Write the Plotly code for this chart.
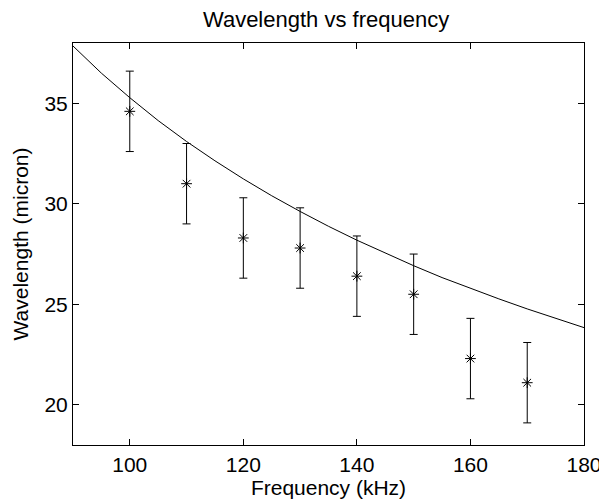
import plotly.graph_objects as go

# Measured data (frequency in kHz, wavelength in micron)
freq = [100, 110, 120, 130, 140, 150, 160, 170]
wavelength = [34.6, 31.0, 28.3, 27.8, 26.4, 25.5, 22.3, 21.1]
err = [2.0, 2.0, 2.0, 2.0, 2.0, 2.0, 2.0, 2.0]

# Theory curve
curve_f = [90, 95, 100, 105, 110, 115, 120, 125, 130, 135, 140, 145, 150, 155, 160, 165, 170, 175, 180]
curve_w = [37.85, 36.50, 35.28, 34.14, 33.10, 32.14, 31.24, 30.40, 29.62, 28.88, 28.19,
           27.54, 26.92, 26.33, 25.79, 25.27, 24.77, 24.29, 23.84]

x_ticks = [100, 120, 140, 160, 180]
y_ticks = [20, 25, 30, 35]

FONT = "Liberation Sans, Arial, sans-serif"

fig = go.Figure()
fig.add_trace(go.Scatter(
    x=curve_f, y=curve_w, mode="lines",
    line=dict(color="black", width=1), showlegend=False, hoverinfo="skip"))
fig.add_trace(go.Scatter(
    x=freq, y=wavelength, mode="markers",
    marker=dict(symbol="asterisk-open", size=9, color="black",
                line=dict(color="black", width=1)),
    error_y=dict(type="data", array=err, visible=True, color="black",
                 thickness=1, width=4),
    showlegend=False))

# The page body has an 8px margin, so the figure is 8px smaller than the window
fig.update_layout(
    width=599, height=495,
    margin=dict(l=65, r=23, t=35, b=58),
    paper_bgcolor="white", plot_bgcolor="white",
    font=dict(family=FONT, size=21, color="black"),
    title=dict(text="Wavelength vs frequency", x=0.531, xanchor="center",
               y=0.977, yanchor="middle", font=dict(size=22, family=FONT)),
    xaxis=dict(range=[90, 180], tickvals=x_ticks, ticks="inside", ticklen=6,
               tickcolor="black", showline=True, linecolor="black", linewidth=1,
               mirror="ticks", showgrid=False, zeroline=False, automargin=False,
               ticklabelstandoff=1,
               title=dict(text="Frequency (kHz)", standoff=1,
                          font=dict(size=21, family=FONT))),
    yaxis=dict(range=[18, 38], tickvals=y_ticks, ticks="inside", ticklen=6,
               tickcolor="black", showline=True, linecolor="black", linewidth=1,
               mirror="ticks", showgrid=False, zeroline=False, automargin=False,
               ticklabelstandoff=0,
               title=dict(text="Wavelength (micron)", standoff=10,
                          font=dict(size=21, family=FONT))),
)

fig.write_html("out.html")
